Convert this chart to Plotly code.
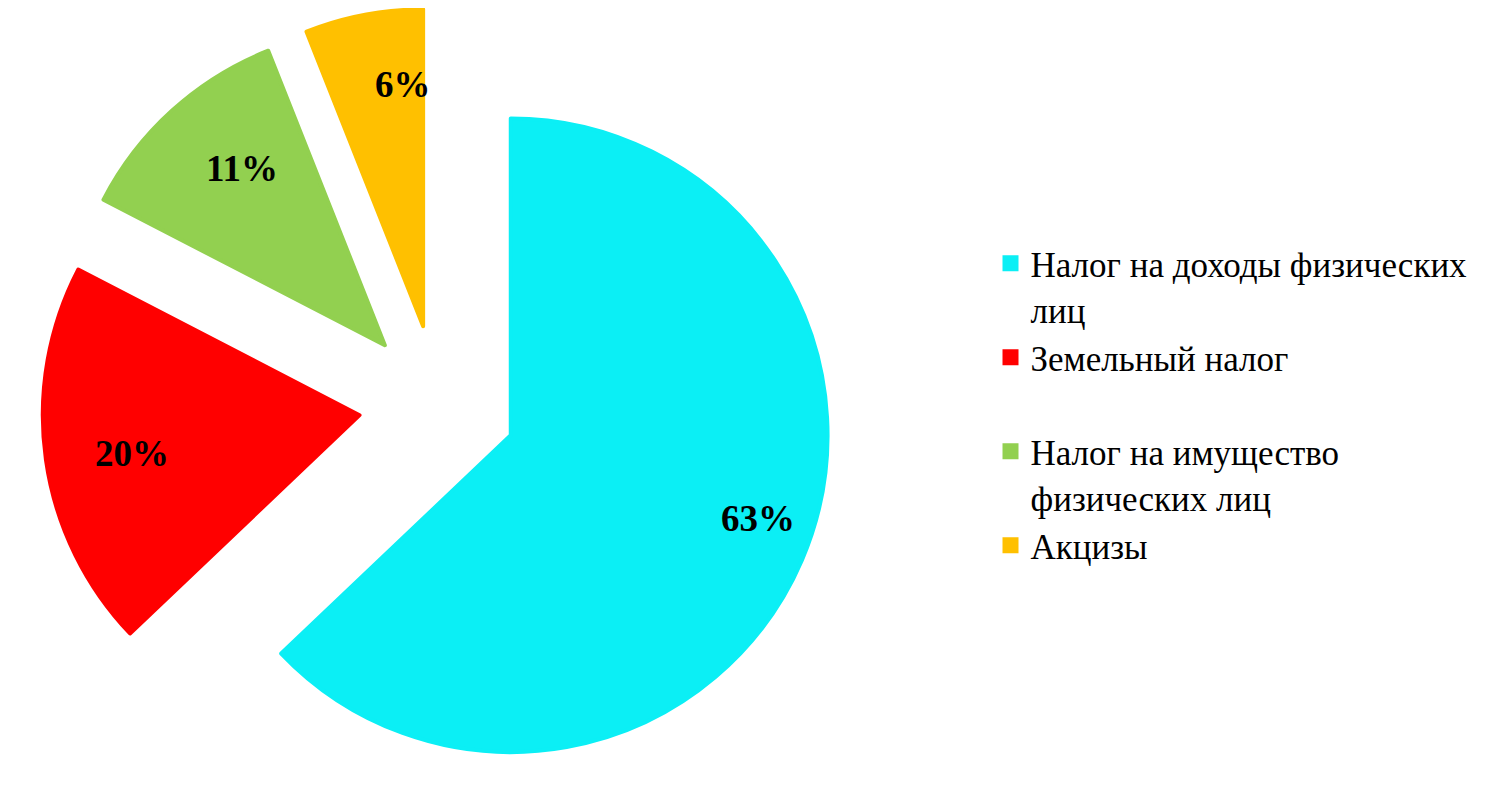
import math
import plotly.graph_objects as go

# ---- data ----
categories = [
    "Налог на доходы физических<br>лиц",
    "Земельный налог<br> ",
    "Налог на имущество<br>физических лиц",
    "Акцизы",
]
values = [62.9, 19.7, 11.4, 6.0]
colors = ["#0BEFF5", "#FF0000", "#92D050", "#FFC000"]
pulls = [0.25, 0.25, 0.25, 0.25]

# ---- layout constants ----
W, H = 1500, 792
dom_x = [0.0, 0.5733]
dom_y = [0.0, 1.0]
label_frac = 0.85

fig = go.Figure(
    go.Pie(
        labels=categories,
        values=values,
        sort=False,
        direction="clockwise",
        rotation=0,
        pull=pulls,
        marker=dict(colors=colors, line=dict(width=4, color=colors)),
        textinfo="none",
        hoverinfo="label+percent",
        domain=dict(x=dom_x, y=dom_y),
        showlegend=True,
    )
)

# percentage labels placed along each slice bisector (derived from the data)
cx = W * (dom_x[0] + dom_x[1]) / 2
cy = H * (1 - (dom_y[0] + dom_y[1]) / 2)
r = min(W * (dom_x[1] - dom_x[0]) / 2, H * (dom_y[1] - dom_y[0]) / 2) / (1 + max(pulls))
total = sum(values)
cum = 0.0
for v, p in zip(values, pulls):
    mid = (cum + v / 2) / total * 2 * math.pi
    cum += v
    rr = (p + label_frac) * r
    px = cx + rr * math.sin(mid)
    py = cy - rr * math.cos(mid)
    fig.add_annotation(
        x=px / W,
        y=1 - py / H,
        xref="paper",
        yref="paper",
        text=f"{round(100 * v / total)}%",
        showarrow=False,
        font=dict(family="Liberation Serif", size=37, color="black", weight="bold"),
    )

fig.update_layout(
    width=W,
    height=H,
    margin=dict(l=0, r=0, t=0, b=0),
    paper_bgcolor="white",
    plot_bgcolor="white",
    legend=dict(
        x=0.655,
        y=0.7145,
        xanchor="left",
        yanchor="top",
        valign="top",
        font=dict(family="Liberation Serif", size=35, color="black"),
        bgcolor="rgba(0,0,0,0)",
    ),
)

fig.write_html("out.html")
